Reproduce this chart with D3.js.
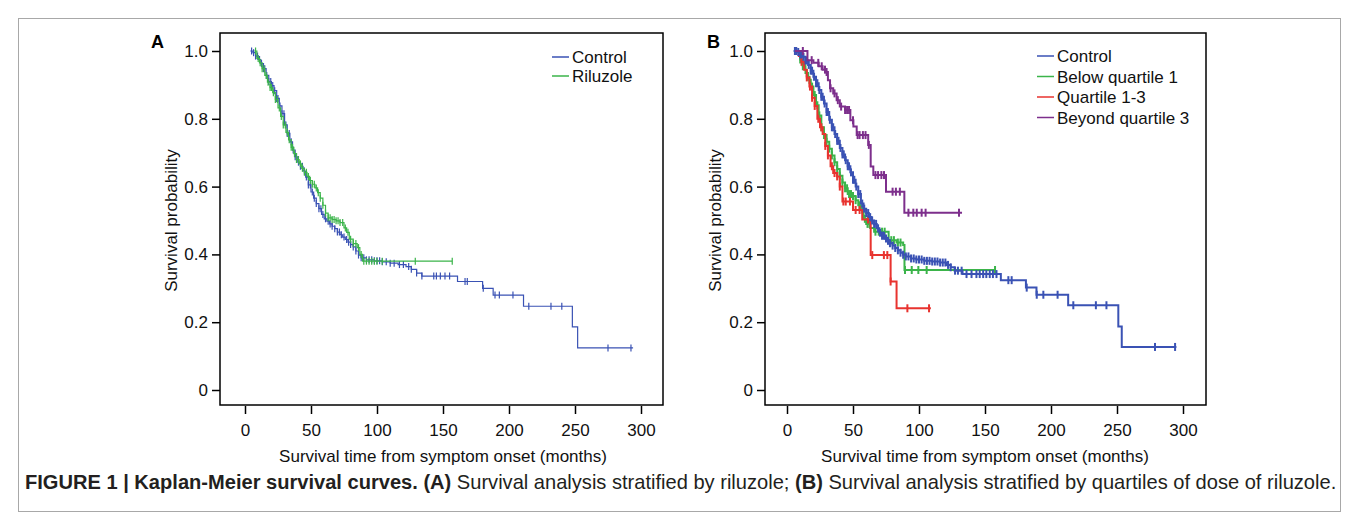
<!DOCTYPE html>
<html>
<head>
<meta charset="utf-8">
<script src="https://cdn.jsdelivr.net/npm/d3@7"></script>
<style>
  body { margin: 0; background: #fff; }
  svg { display: block; }
</style>
</head>
<body>
<script>
// ticks
var xTicks = [0, 50, 100, 150, 200, 250, 300];
var yTicks = [0, 0.2, 0.4, 0.6, 0.8, 1.0];

// panel A - [time (months), survival] knots
var aControl = [[4,1.0],[6,0.995],[8,0.985],[10,0.975],[12,0.963],[14,0.948],[16,0.928],[18,0.91],[20,0.898],[22,0.883],
  [24,0.86],[26,0.838],[28,0.815],[30,0.782],[32,0.757],[34,0.732],[36,0.708],[38,0.688],[40,0.672],[42,0.66],
  [44,0.646],[46,0.628],[48,0.605],[50,0.584],[52,0.566],[54,0.55],[56,0.535],[58,0.518],[60,0.505],[62,0.498],
  [64,0.49],[66,0.483],[68,0.476],[70,0.466],[72,0.458],[74,0.451],[76,0.444],[78,0.436],[80,0.429],[82,0.422],
  [84,0.41],[86,0.398],[88,0.39],[92,0.384],[98,0.381],[104,0.378],[110,0.374],[116,0.37],[122,0.364],[126,0.356],
  [130,0.345],[134,0.336],[161,0.32],[180,0.30],[188,0.28],[211,0.247],[248,0.186],[252,0.124]];
var aControlEnd = 294;
var aControlCensor = [5,6.5,8,9.5,11,12.5,14,15,16.5,18,19.5,21,22.5,24,25,26.5,28,29.5,31,32,33.5,35,36.5,38,39,
  40.5,42,43.5,45,46.5,48,49.5,51,52.5,54,56,57.5,59,61,63,64.5,66,68,70,71.5,73,75,77,78.5,80,82,84,86,88,90,
  92,94,96,98,100,102,104,107,110,113,117,120,124,126,130,134,143,145,148,151.5,155,166.7,168.4,180.5,189.4,
  192.7,203,215,231.8,240,275,292.4];

var aRiluzole = [[7,1.0],[9,0.978],[11,0.965],[13,0.948],[15,0.928],[17,0.908],[19,0.892],[21,0.877],[23,0.857],
  [25,0.832],[27,0.807],[29,0.782],[31,0.76],[33,0.738],[35,0.716],[37,0.697],[39,0.68],[41,0.667],[43,0.654],
  [45,0.642],[47,0.63],[49,0.618],[51,0.607],[53,0.596],[55,0.582],[57,0.566],[59,0.545],[61,0.522],[63,0.508],
  [66,0.503],[69,0.499],[72,0.494],[75,0.478],[77,0.465],[79,0.445],[82,0.432],[85,0.42],[87,0.4],[89,0.38]];
var aRiluzoleEnd = 157;
var aRiluzoleCensor = [8,10,11.5,13,14.5,16,17.5,19,20,21.5,23,24.5,26,27.5,29,30.5,32,33.5,35,36,37.5,39,40.5,
  42,43.5,45,46.5,48,49.5,51,52.5,54,55.5,57,59,61,63,64.5,66,67.5,69,70.5,72,74,76,78,80,82,84,86,88,90,92,
  94,96,98,100,104,129,157];

// panel B
var bControl = [[5,1.0],[8,0.997],[10,0.99],[12,0.983],[14,0.972],[16,0.959],[18,0.942],[20,0.924],[22,0.905],
  [24,0.885],[26,0.865],[28,0.845],[30,0.82],[32,0.797],[34,0.775],[36,0.755],[38,0.735],[40,0.714],[42,0.695],
  [44,0.678],[46,0.66],[48,0.642],[50,0.62],[52,0.6],[54,0.578],[56,0.55],[58,0.535],[60,0.522],[62,0.51],
  [64,0.5],[66,0.49],[68,0.477],[70,0.464],[72,0.455],[74,0.447],[76,0.44],[78,0.433],[80,0.426],[82,0.419],
  [84,0.412],[86,0.405],[88,0.399],[90,0.394],[94,0.388],[98,0.385],[104,0.381],[110,0.379],[116,0.376],
  [121,0.369],[124,0.362],[127,0.352],[133,0.342],[162,0.324],[181,0.302],[189,0.281],[213,0.25],[251,0.187],
  [253.6,0.127]];
var bControlEnd = 295;
var bControlCensor = [6,7,8.5,10,11,12.5,14,15,16.5,18,19,20.5,22,23,24.5,26,27,28.5,30,31,32.5,34,35,36.5,38,39,
  40.5,42,43,44.5,46,47,48.5,50,51,52.5,54,55.5,57,58.5,60,61.5,63,64.5,66,67.5,69,70.5,72,73.5,75,76.5,78,80,
  82,84,86,88,90,92,94,96,98,100,102,104,106,108,110,112,114,116,118,120,122,124,127.3,129.5,132.3,136,139.8,
  143.5,146,148.6,151,153.6,156,158.7,167.7,170.2,181.6,189.2,194.2,205,216.9,234,242,278.8,294];

var bBelowQ1 = [[8,1.0],[10,0.975],[12,0.955],[14,0.935],[16,0.915],[18,0.895],[20,0.87],[22,0.84],[24,0.81],
  [26,0.775],[28,0.752],[30,0.732],[32,0.712],[34,0.692],[36,0.672],[38,0.652],[40,0.632],[42,0.612],[44,0.595],
  [46,0.578],[50,0.572],[52,0.56],[54,0.545],[56,0.532],[58,0.505],[60,0.49],[63,0.478],[66,0.467],[77,0.442],
  [83,0.435],[88,0.428],[89,0.354]];
var bBelowQ1End = 158;
var bBelowQ1Censor = [10,12,13.5,15,17,19,21,23,24.5,26,28,30,32,34,36,38,40,42,44,45.5,47,48.5,50,52,55,57,
  59,61,62.5,67,69.5,72,74,79,81,84,86,89.4,94.5,99.5,105.8,157.6];

var bQ13 = [[7,1.0],[9,0.985],[11,0.968],[13,0.945],[15,0.922],[17,0.895],[19,0.862],[21,0.838],[23,0.8],
  [25,0.775],[27,0.755],[29,0.72],[31,0.692],[33,0.66],[35,0.64],[38,0.63],[40,0.6],[42,0.556],[50,0.531],
  [57,0.503],[63.4,0.398],[78.5,0.32],[83,0.241]];
var bQ13End = 109;
var bQ13Censor = [11,15,17.4,19,21,23.7,26,29,31,34,36,38,40,42.7,44.5,47.7,52,55,61.4,64.6,73.4,76,78.5,91.2,107.6];

var bBeyondQ3 = [[6,1.0],[15.5,0.973],[20,0.965],[24,0.955],[27,0.945],[29,0.938],[31,0.914],[32.6,0.89],
  [35,0.875],[37.6,0.855],[40,0.836],[44,0.826],[48,0.796],[50.3,0.777],[52.8,0.752],[61.5,0.723],[63.4,0.659],
  [65.4,0.634],[75,0.585],[88.9,0.523]];
var bBeyondQ3End = 132.6;
var bBeyondQ3Censor = [12,18.7,23.7,26.3,28.8,30,33,36,38.5,41,44,45.5,47,50,53.5,55,57.5,59.5,62,67,69,71.5,
  73.5,80,82.5,85.5,92,95.7,98.3,102,105,130.3];

var font = "'Liberation Sans', Arial, Helvetica, sans-serif";
var W = 1357, H = 529;

var svg = d3.select("body").append("svg")
    .attr("width", W)
    .attr("height", H);

// outer frame of the figure
svg.append("rect")
    .attr("x", 18.5).attr("y", 18.5)
    .attr("width", 1322).attr("height", 493)
    .attr("fill", "none")
    .attr("stroke", "#a8a8a8")
    .attr("stroke-width", 1);

// value of a step curve at time t
function stepAt(knots, t) {
    var s = knots[0][1];
    for (var i = 0; i < knots.length; i++) {
        if (knots[i][0] <= t) s = knots[i][1];
    }
    return s;
}

function panel(opt) {
    var x = d3.scaleLinear().domain([0, 300]).range([opt.x0, opt.x300]);
    var y = d3.scaleLinear().domain([0, 1]).range([390, 51]);
    var g = svg.append("g");

    // box
    g.append("rect")
        .attr("x", opt.left).attr("y", 33)
        .attr("width", opt.right - opt.left).attr("height", 405 - 33)
        .attr("fill", "none").attr("stroke", "#000").attr("stroke-width", 1.5);

    // axes
    var yAxis = d3.axisLeft(y).tickValues(yTicks).tickSize(8).tickPadding(4)
        .tickFormat(function(d) { return d === 0 ? "0" : d3.format(".1f")(d); });
    var ya = g.append("g").attr("transform", "translate(" + opt.left + ",0)").call(yAxis);
    var xAxis = d3.axisBottom(x).tickValues(xTicks).tickSize(8).tickPadding(10).tickFormat(d3.format("d"));
    var xa = g.append("g").attr("transform", "translate(0,406)").call(xAxis);
    [ya, xa].forEach(function(a) {
        a.select(".domain").remove();
        a.selectAll(".tick line").attr("stroke", "#000").attr("stroke-width", 1.5);
        a.selectAll(".tick text").attr("fill", "#111").style("font-family", font).style("font-size", "17px");
    });

    // axis titles
    g.append("text")
        .attr("x", x(150)).attr("y", 462)
        .attr("text-anchor", "middle")
        .style("font-family", font).style("font-size", "17px").attr("fill", "#111")
        .text("Survival time from symptom onset (months)");
    g.append("text")
        .attr("transform", "translate(" + opt.ytitleX + "," + y(0.5) + ") rotate(-90)")
        .attr("text-anchor", "middle")
        .style("font-family", font).style("font-size", "17px").attr("fill", "#111")
        .text("Survival probability");

    // panel letter
    g.append("text")
        .attr("x", opt.letterX).attr("y", 48)
        .style("font-family", font).style("font-size", "18px").style("font-weight", "bold")
        .text(opt.letter);

    var line = d3.line()
        .x(function(d) { return x(d[0]); })
        .y(function(d) { return y(d[1]); })
        .curve(d3.curveStepAfter);

    opt.series.forEach(function(s) {
        var pts = s.knots.concat([[s.end, s.knots[s.knots.length - 1][1]]]);
        g.append("path")
            .datum(pts)
            .attr("d", line)
            .attr("fill", "none")
            .attr("stroke", s.color)
            .attr("stroke-width", opt.lw);
        g.selectAll(null)
            .data(s.censor)
            .enter()
            .append("line")
            .attr("x1", function(d) { return x(d); })
            .attr("x2", function(d) { return x(d); })
            .attr("y1", function(d) { return y(stepAt(s.knots, d)) - opt.tick; })
            .attr("y2", function(d) { return y(stepAt(s.knots, d)) + opt.tick; })
            .attr("stroke", s.color)
            .attr("stroke-width", opt.lw);
    });

    // legend
    var leg = g.append("g");
    opt.legend.forEach(function(l, i) {
        var yy = opt.legY + i * opt.legStep;
        leg.append("line")
            .attr("x1", opt.legX).attr("x2", opt.legX + 17)
            .attr("y1", yy).attr("y2", yy)
            .attr("stroke", l.color).attr("stroke-width", 1.5);
        leg.append("text")
            .attr("x", opt.legX + 20).attr("y", yy + 6)
            .style("font-family", font).style("font-size", "17px").attr("fill", "#111")
            .text(l.name);
    });
}

var cBlue = "#3a52b4", cGreen = "#3bb44a", cRed = "#e8332f", cPurple = "#7d2f8c";

panel({
    letter: "A", letterX: 151,
    left: 220, right: 663, x0: 245, x300: 641, ytitleX: 177,
    lw: 1.2, tick: 3.5,
    series: [
        { knots: aControl, end: aControlEnd, censor: aControlCensor, color: cBlue },
        { knots: aRiluzole, end: aRiluzoleEnd, censor: aRiluzoleCensor, color: cGreen }
    ],
    legX: 552, legY: 57, legStep: 19,
    legend: [{ name: "Control", color: cBlue }, { name: "Riluzole", color: cGreen }]
});

panel({
    letter: "B", letterX: 707,
    left: 765, right: 1206, x0: 787, x300: 1183, ytitleX: 721,
    lw: 2, tick: 4,
    series: [
        { knots: bBelowQ1, end: bBelowQ1End, censor: bBelowQ1Censor, color: cGreen },
        { knots: bQ13, end: bQ13End, censor: bQ13Censor, color: cRed },
        { knots: bControl, end: bControlEnd, censor: bControlCensor, color: cBlue },
        { knots: bBeyondQ3, end: bBeyondQ3End, censor: bBeyondQ3Censor, color: cPurple }
    ],
    legX: 1037, legY: 56, legStep: 20.5,
    legend: [
        { name: "Control", color: cBlue },
        { name: "Below quartile 1", color: cGreen },
        { name: "Quartile 1-3", color: cRed },
        { name: "Beyond quartile 3", color: cPurple }
    ]
});

// caption
var cap = svg.append("text")
    .attr("x", 25).attr("y", 489)
    .style("font-family", font).style("font-size", "15px").attr("fill", "#231f20");
cap.append("tspan").style("font-weight", "bold").text("FIGURE 1 | Kaplan-Meier survival curves. (A)");
cap.append("tspan").text(" Survival analysis stratified by riluzole; ");
cap.append("tspan").style("font-weight", "bold").text("(B)");
cap.append("tspan").text(" Survival analysis stratified by quartiles of dose of riluzole.");
var capW = cap.node().getComputedTextLength();
cap.style("font-size", (15 * 1312 / capW) + "px");
</script>
</body>
</html>
